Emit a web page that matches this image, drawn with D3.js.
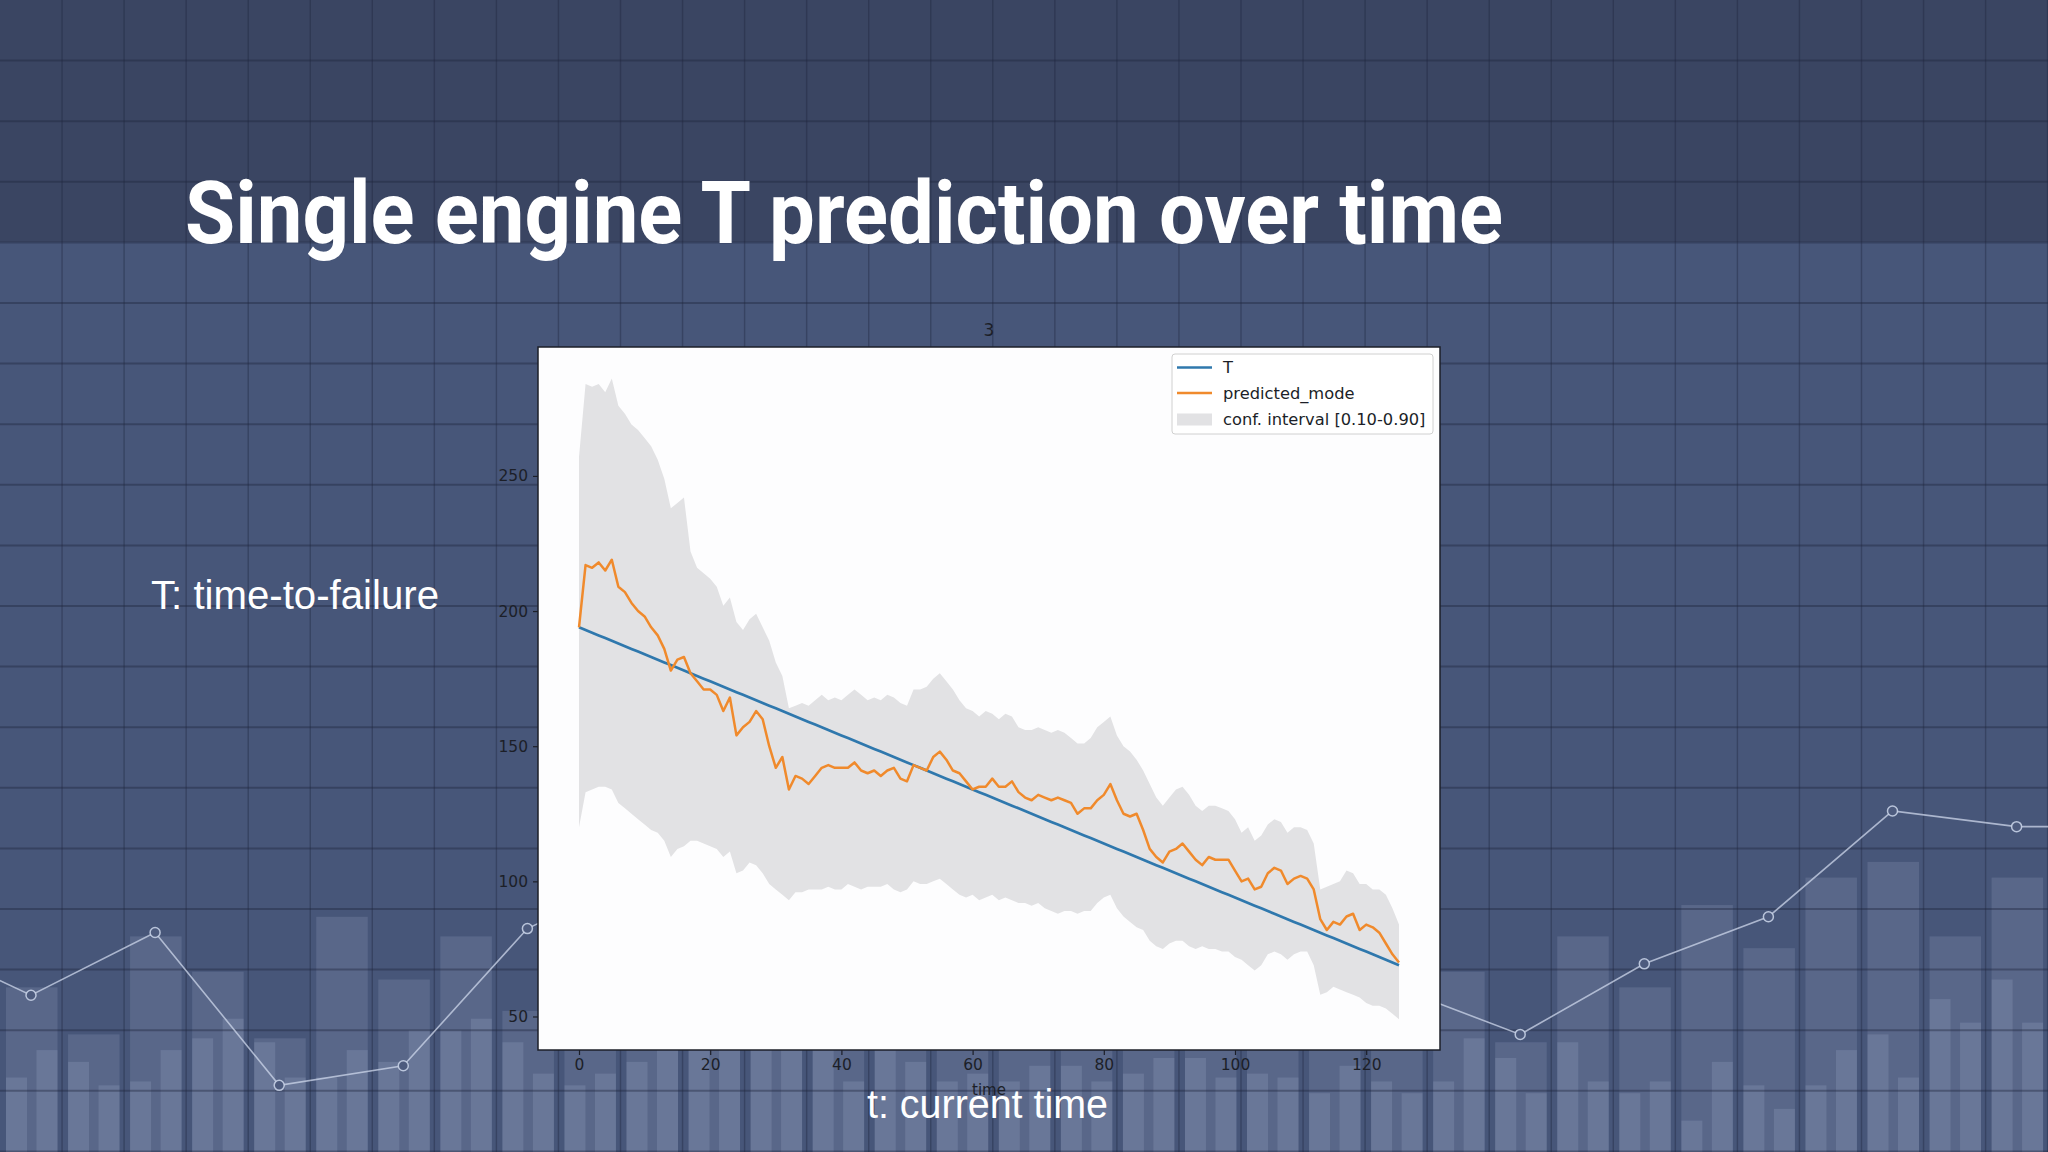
<!DOCTYPE html>
<html><head><meta charset="utf-8">
<script src="https://cdn.jsdelivr.net/npm/d3@7"></script>
<style>html,body{margin:0;padding:0;background:#475679;overflow:hidden}svg{display:block}</style>
</head><body><svg id="c" width="2048" height="1152"></svg>
<script>
// ---------------- chart data ----------------
const time = d3.range(0, 126);
const T = [194,193,192,191,190,189,188,187,186,185,
184,183,182,181,180,179,178,177,176,175,
174,173,172,171,170,169,168,167,166,165,
164,163,162,161,160,159,158,157,156,155,
154,153,152,151,150,149,148,147,146,145,
144,143,142,141,140,139,138,137,136,135,
134,133,132,131,130,129,128,127,126,125,
124,123,122,121,120,119,118,117,116,115,
114,113,112,111,110,109,108,107,106,105,
104,103,102,101,100,99,98,97,96,95,
94,93,92,91,90,89,88,87,86,85,
84,83,82,81,80,79,78,77,76,75,
74,73,72,71,70,69];
const predictedMode = [194,217,216,218,215,219,209,207,203,200,
198,194,191,186,178,182,183,177,174,171,
171,169,163,168,154,157,159,163,160,150,
142,146,134,139,138,136,139,142,143,142,
142,142,144,141,140,141,139,141,142,138,
137,143,142,141,146,148,145,141,140,137,
134,135,135,138,135,135,137,133,131,130,
132,131,130,131,130,129,125,127,127,130,
132,136,130,125,124,125,119,112,109,107,
111,112,114,111,108,106,109,108,108,108,
104,100,101,97,98,103,105,104,99,101,
102,101,97,86,82,85,84,87,88,82,
84,83,81,77,73,70];
const confUpper = [257,284,283,284,281,286,276,273,269,267,
264,261,256,249,238,240,242,222,216,214,
212,209,202,205,196,193,197,199,194,189,
181,176,164,165,166,165,167,169,167,168,
167,169,171,169,167,168,167,169,168,166,
165,171,171,172,175,177,174,171,167,164,
163,161,163,162,160,162,161,157,156,156,
157,156,155,156,155,153,151,151,153,157,
159,161,154,150,148,145,141,136,131,128,
131,134,135,132,128,126,128,128,127,126,
123,118,120,115,117,121,123,122,118,120,
120,119,114,97,98,99,100,104,103,99,
99,97,97,95,90,84];
const confLower = [120,133,134,135,135,134,129,127,125,123,
121,119,118,115,109,112,113,115,115,114,
113,112,109,111,103,104,107,106,103,99,
97,95,93,96,96,97,97,97,98,97,
97,99,98,97,98,98,98,99,97,96,
97,100,99,99,100,101,99,97,95,94,
95,93,94,95,93,94,93,92,92,91,
92,90,89,88,89,89,88,89,89,92,
94,95,90,87,85,83,82,78,76,75,
77,78,78,76,75,76,75,75,74,74,
72,71,69,67,69,73,74,73,71,73,
74,74,69,58,59,61,60,59,58,57,
55,54,54,53,51,49];
const xTicks = [0,20,40,60,80,100,120];
const yTicks = [50,100,150,200,250];
const legendLabels = ["T","predicted_mode","conf. interval [0.10-0.90]"];
const chartTitle = "3";
const xLabel = "time";
const slideTitle = "Single engine T prediction over time";
const noteY = "T: time-to-failure";
const noteX = "t: current time";

// ---------------- decorative slide background data ----------------
// bar heights per grid cell (0..32), arbitrary 0-100 units
const bgWide   = [42,30,55,46,29,60,44,55,36, 40,40,40,40,40,40,40,40,40,40,40,40,40,40, 46,28,55,42,63,52,70,74,55,70];
const bgNarrowA= [19,23,18,29,28,19,23,31,28, 17,23,28,28,28,28,18,18,22,20,24,20,15,18, 18,24,28,15,8,17,17,30,39,44];
const bgNarrowB= [26,17,26,34,19,26,31,34,20, 20,28,28,28,18,23,20,22,18,24,19,19,22,15, 29,15,18,18,23,11,26,19,33,33];
const bgLineLeft  = [55,40,56,17,22,57,72];   // markers k=-1..5
const bgLineRight = [42,30,48,60,87,83,83];   // markers k=11..17

// ---------------- drawing ----------------
const W = 2048, H = 1152;
const svg = d3.select("#c");

// slide background
svg.append("rect").attr("x",0).attr("y",0).attr("width",W).attr("height",H).attr("fill","#475679");
svg.append("rect").attr("x",0).attr("y",0).attr("width",W).attr("height",242).attr("fill","#3a4562");

const cellW = 62.05, rowH = 60.6;
const cellX = d3.scaleLinear().domain([0,1]).range([0,cellW]);
const bgY = d3.scaleLinear().domain([0,100]).range([H,760]);
const cells = d3.range(bgWide.length);

const gBars = svg.append("g");
gBars.selectAll("rect.w").data(cells).join("rect")
  .attr("x", i => cellX(i)+6).attr("width", 51.5)
  .attr("y", i => bgY(bgWide[i])).attr("height", i => H - bgY(bgWide[i]))
  .attr("fill","rgba(200,215,240,0.14)");
gBars.selectAll("rect.a").data(cells).join("rect")
  .attr("x", i => cellX(i)+6).attr("width", 21)
  .attr("y", i => bgY(bgNarrowA[i])).attr("height", i => H - bgY(bgNarrowA[i]))
  .attr("fill","rgba(200,215,240,0.15)");
gBars.selectAll("rect.b").data(cells).join("rect")
  .attr("x", i => cellX(i)+36.5).attr("width", 21)
  .attr("y", i => bgY(bgNarrowB[i])).attr("height", i => H - bgY(bgNarrowB[i]))
  .attr("fill","rgba(200,215,240,0.15)");

// grid
const gGrid = svg.append("g");
d3.range(1, 34).forEach(i => gGrid.append("line").attr("x1",cellX(i)).attr("x2",cellX(i)).attr("y1",0).attr("y2",H)
  .attr("stroke","rgba(30,38,60,0.38)").attr("stroke-width",1.4));
d3.range(1, 20).forEach(j => gGrid.append("line").attr("x1",0).attr("x2",W).attr("y1",j*rowH).attr("y2",j*rowH)
  .attr("stroke","rgba(30,38,60,0.4)").attr("stroke-width",2));

// background line chart
const mkX = k => 31 + 124.1*k;
const leftPts = bgLineLeft.map((v,i)=>[mkX(i-1), bgY(v)]);
const rightPts = bgLineRight.map((v,i)=>[mkX(i+11), bgY(v)]);
[leftPts, rightPts].forEach(pts => {
  svg.append("path").attr("d", d3.line()(pts)).attr("fill","none")
    .attr("stroke","rgba(205,215,235,0.75)").attr("stroke-width",1.6);
  svg.selectAll(null).data(pts).join("circle").attr("cx",d=>d[0]).attr("cy",d=>d[1]).attr("r",5)
    .attr("fill","#4d5b7e").attr("stroke","rgba(205,215,235,0.85)").attr("stroke-width",1.5);
});

// ---------------- matplotlib-like chart ----------------
const L = 538, R = 1440, TOP = 347, BOT = 1050;
const x = d3.scaleLinear().domain([-6.25, 131.25]).range([L, R]);
const y = d3.scaleLinear().domain([37.6, 297.7]).range([BOT, TOP]);

svg.append("rect").attr("x",L).attr("y",TOP).attr("width",R-L).attr("height",BOT-TOP).attr("fill","#fdfdfe");

const band = d3.area().x((d,i)=>x(time[i])).y0((d,i)=>y(confLower[i])).y1((d,i)=>y(confUpper[i]));
svg.append("path").attr("d", band(time)).attr("fill","#e2e2e4");

const lineT = d3.line().x((d,i)=>x(time[i])).y((d,i)=>y(T[i]));
svg.append("path").attr("d", lineT(time)).attr("fill","none").attr("stroke","#2f78ad").attr("stroke-width",2.7);
const lineP = d3.line().x((d,i)=>x(time[i])).y((d,i)=>y(predictedMode[i]));
svg.append("path").attr("d", lineP(time)).attr("fill","none").attr("stroke","#f08a2c").attr("stroke-width",2.5)
  .attr("stroke-linejoin","round");

svg.append("rect").attr("x",L).attr("y",TOP).attr("width",R-L).attr("height",BOT-TOP)
  .attr("fill","none").attr("stroke","#1c1f28").attr("stroke-width",1.5);

// axes
const tickFont = "'DejaVu Sans', sans-serif";
const gx = svg.append("g").attr("transform",`translate(0,${BOT})`)
  .call(d3.axisBottom(x).tickValues(xTicks).tickSize(5).tickPadding(4).tickSizeOuter(0));
const gy = svg.append("g").attr("transform",`translate(${L},0)`)
  .call(d3.axisLeft(y).tickValues(yTicks).tickSize(5).tickPadding(5).tickSizeOuter(0));
[gx, gy].forEach(g => {
  g.select(".domain").remove();
  g.selectAll("line").attr("stroke","#1c1f28").attr("stroke-width",1.2);
  g.selectAll("text").attr("fill","#1c1f28").style("font-family",tickFont).style("font-size","15.5px");
});

svg.append("text").attr("x",(L+R)/2).attr("y",336).attr("text-anchor","middle")
  .style("font-family",tickFont).style("font-size","17px").attr("fill","#1c1f28").text(chartTitle);
svg.append("text").attr("x",(L+R)/2).attr("y",1095).attr("text-anchor","middle")
  .style("font-family",tickFont).style("font-size","15px").attr("fill","#1c1f28").text(xLabel);

// legend
const lg = svg.append("g");
lg.append("rect").attr("x",1172).attr("y",354).attr("width",261).attr("height",80).attr("rx",3)
  .attr("fill","rgba(255,255,255,0.85)").attr("stroke","#d0d0d0").attr("stroke-width",1);
const rowsY = [367.5, 393, 419.5];
lg.append("line").attr("x1",1177).attr("x2",1212).attr("y1",rowsY[0]).attr("y2",rowsY[0]).attr("stroke","#2f78ad").attr("stroke-width",2.7);
lg.append("line").attr("x1",1177).attr("x2",1212).attr("y1",rowsY[1]).attr("y2",rowsY[1]).attr("stroke","#f08a2c").attr("stroke-width",2.5);
lg.append("rect").attr("x",1177).attr("y",rowsY[2]-6).attr("width",35).attr("height",12).attr("fill","#e2e2e4");
legendLabels.forEach((t,i)=>{
  lg.append("text").attr("x",1223).attr("y",rowsY[i]+5.5).style("font-family",tickFont).style("font-size","16.3px")
    .attr("fill","#1c1f28").text(t);
});

// slide texts
svg.append("text").attr("x",185).attr("y",243).attr("textLength",1318).attr("lengthAdjust","spacingAndGlyphs")
  .style("font-family","Roboto, 'Open Sans', sans-serif").style("font-weight","700").style("font-size","88px")
  .attr("fill","#ffffff").text(slideTitle);
svg.append("text").attr("x",151).attr("y",609).attr("textLength",288).attr("lengthAdjust","spacingAndGlyphs")
  .style("font-family","'Liberation Sans', Arial, sans-serif").style("font-size","41px").attr("fill","#ffffff").text(noteY);
svg.append("text").attr("x",867).attr("y",1118).attr("textLength",241).attr("lengthAdjust","spacingAndGlyphs")
  .style("font-family","'Liberation Sans', Arial, sans-serif").style("font-size","40px").attr("fill","#ffffff").text(noteX);
</script>
</body></html>
